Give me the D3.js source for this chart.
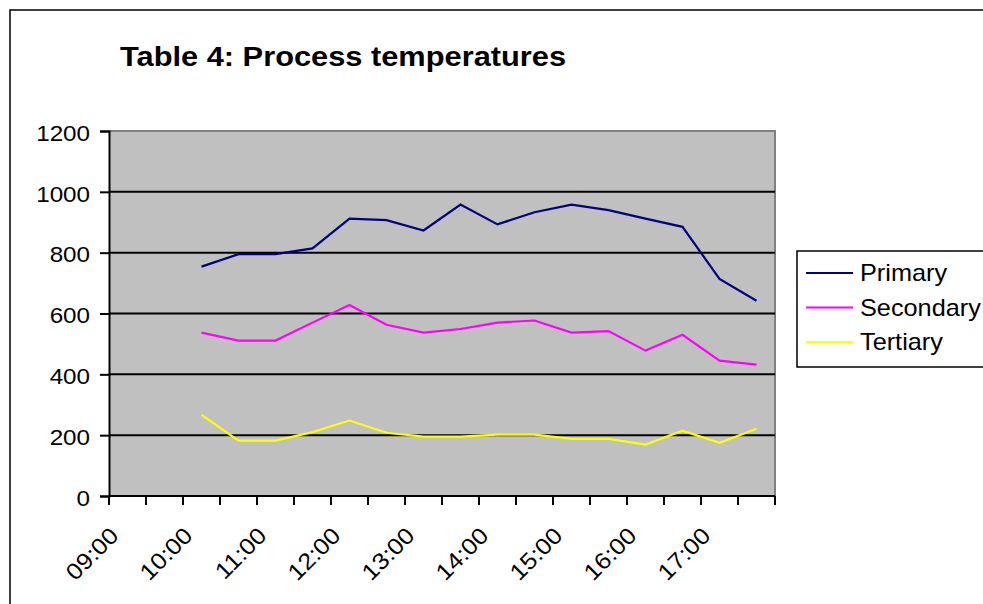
<!DOCTYPE html>
<html>
<head>
<meta charset="utf-8">
<script src="https://cdn.jsdelivr.net/npm/d3@7"></script>
<style>
  html, body { margin: 0; padding: 0; background: #fff; }
  svg { display: block; font-family: "Liberation Sans", Arial, sans-serif; }
</style>
</head>
<body>
<svg id="chart" width="983" height="604"></svg>
<script>
const title = "Table 4: Process temperatures";
const categories = ["09:00","09:30","10:00","10:30","11:00","11:30","12:00","12:30","13:00","13:30",
                    "14:00","14:30","15:00","15:30","16:00","16:30","17:00","17:30"];
const primary   = [null, null, 754, 795, 795, 814, 912, 907, 873, 958, 893, 933, 958, 940, 912, 885, 714, 642];
const secondary = [null, null, 537, 511, 511, 570, 628, 563, 537, 549, 570, 577, 537, 542, 478, 530, 445, 432];
const tertiary  = [null, null, 267, 182, 182, 210, 248, 208, 195, 195, 202, 202, 188, 188, 169, 215, 175, 221];
const seriesNames = ["Primary", "Secondary", "Tertiary"];
const seriesColors = ["#000080", "#FF00FF", "#FFFF00"];
const yTicks = [0, 200, 400, 600, 800, 1000, 1200];

const series = [primary, secondary, tertiary];
const svg = d3.select("#chart");
const SX = 1.1; // horizontal text stretch

const L = 109, R = 775, T = 131, B = 496;

// outer chart border
svg.append("rect").attr("x", 10).attr("y", 10).attr("width", 1100).attr("height", 1000)
  .attr("fill", "none").attr("stroke", "#000").attr("stroke-width", 1.5);

// title
svg.append("text").attr("transform", `translate(120,66) scale(${SX},1)`)
  .attr("font-size", 28).attr("font-weight", "bold").attr("fill", "#000").text(title);

const x = d3.scaleBand().domain(categories).range([L, R]).paddingInner(0).paddingOuter(0);
const y = d3.scaleLinear().domain([0, 1200]).range([B, T]);

// plot area
svg.append("rect").attr("x", L).attr("y", T).attr("width", R - L).attr("height", B - T)
  .attr("fill", "#C0C0C0");
svg.append("path").attr("d", `M${L},${T}H${R}V${B}`).attr("fill", "none")
  .attr("stroke", "#808080").attr("stroke-width", 2);

// gridlines
svg.append("g").selectAll("line").data(yTicks.filter(d => d > 0 && d < 1200)).join("line")
  .attr("x1", L).attr("x2", R).attr("y1", d => y(d)).attr("y2", d => y(d))
  .attr("stroke", "#000").attr("stroke-width", 2);

// y axis
const yAxis = svg.append("g").attr("transform", `translate(${L},0)`)
  .call(d3.axisLeft(y).tickValues(yTicks).tickSize(9).tickPadding(10).tickFormat(d3.format("d")));
yAxis.select(".domain").attr("stroke-width", 2);
yAxis.selectAll(".tick line").attr("stroke-width", 2);
yAxis.selectAll("text").attr("font-size", 22).attr("font-family", "Liberation Sans, Arial, sans-serif")
  .attr("x", null).attr("transform", `translate(-19,0) scale(${SX},1)`)
  .attr("dy", "0.42em").attr("fill", "#000");

// x axis (category edges as ticks)
const edges = categories.map(c => x(c)).concat([R]);
const xg = svg.append("g");
xg.append("line").attr("x1", L).attr("x2", R).attr("y1", B).attr("y2", B)
  .attr("stroke", "#000").attr("stroke-width", 2);
xg.selectAll("line.tk").data(edges).join("line").attr("class", "tk")
  .attr("x1", d => d).attr("x2", d => d).attr("y1", B).attr("y2", B + 9)
  .attr("stroke", "#000").attr("stroke-width", 2);
xg.selectAll("text").data(categories.filter((c, i) => i % 2 === 0)).join("text")
  .attr("transform", c => `translate(${x(c) + 11},${B + 41}) rotate(-45) scale(${SX},1)`)
  .attr("text-anchor", "end").attr("font-size", 23).attr("fill", "#000").text(c => c);

// lines
const line = d3.line()
  .defined(d => d.v != null)
  .x(d => x(d.c) + x.bandwidth() / 2)
  .y(d => y(d.v));
series.forEach((vals, si) => {
  const data = categories.map((c, i) => ({ c, v: vals[i] }));
  svg.append("path").datum(data).attr("d", line).attr("fill", "none")
    .attr("stroke", seriesColors[si]).attr("stroke-width", 2.2).attr("stroke-linejoin", "miter");
});

// legend
const lg = svg.append("g");
lg.append("rect").attr("x", 797).attr("y", 251).attr("width", 300).attr("height", 116)
  .attr("fill", "#fff").attr("stroke", "#000").attr("stroke-width", 1.5);
seriesNames.forEach((n, i) => {
  const ly = 273 + i * 34.5;
  lg.append("line").attr("x1", 806).attr("x2", 853).attr("y1", ly).attr("y2", ly)
    .attr("stroke", seriesColors[i]).attr("stroke-width", 2);
  lg.append("text").attr("transform", `translate(860,${ly}) scale(${SX},1)`)
    .attr("dy", "0.36em").attr("font-size", 23).attr("fill", "#000").text(n);
});
</script>
</body>
</html>
